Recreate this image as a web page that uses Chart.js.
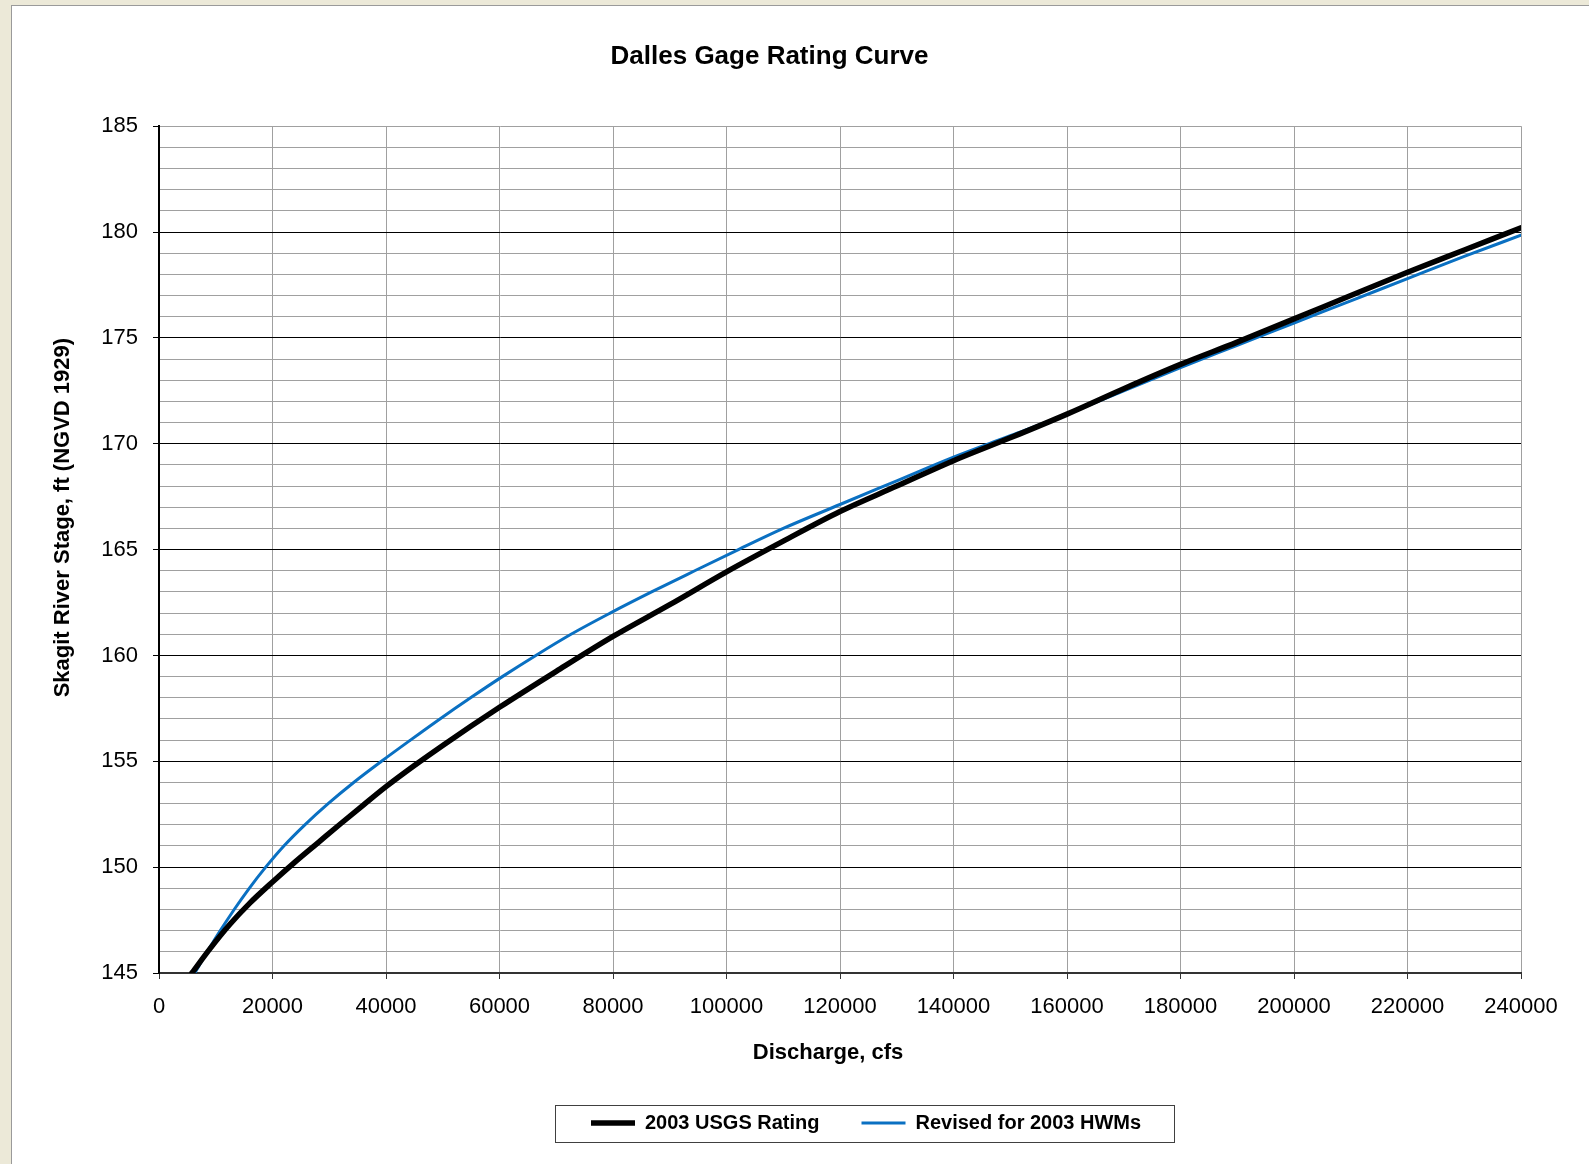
<!DOCTYPE html>
<html>
<head>
<meta charset="utf-8">
<title>Dalles Gage Rating Curve</title>
<script src="https://cdn.jsdelivr.net/npm/chart.js@4.4.1/dist/chart.umd.min.js"></script>
<style>
    html, body { margin: 0; padding: 0; background: #ECE9D8; overflow: hidden; }
    #panel {
        position: absolute; left: 11px; top: 5px;
        width: 1578px; height: 1159px;
        background: #fff;
        border-left: 1px solid #9a9a9a;
        border-top: 1px solid #9a9a9a;
    }
    #panel canvas { display: block; }
</style>
</head>
<body>
<div id="panel"><canvas id="ratingChart" width="1577" height="1158"></canvas></div>
<script>
// 2003 USGS rating (black), discharge in cfs vs stage in ft
const usgsDischarge = [5800, 9000, 12500, 16000, 20000, 24000, 28000, 32000, 36000, 40000,
    45000, 50000, 60000, 70000, 80000, 90000, 100000, 110000, 120000, 130000,
    140000, 150000, 160000, 170000, 180000, 190000, 200000, 210000, 220000, 230000, 240000];
const usgsStage = [145.0, 146.15, 147.3, 148.3, 149.3, 150.25, 151.15, 152.05, 152.93, 153.8,
    154.8, 155.75, 157.55, 159.25, 160.9, 162.4, 163.95, 165.4, 166.8, 168.0,
    169.2, 170.28, 171.4, 172.6, 173.75, 174.8, 175.9, 177.0, 178.1, 179.15, 180.2];

// Revised for 2003 HWMs (blue)
const hwmDischarge = [6300, 8500, 10800, 13250, 15900, 18800, 22000, 25700, 29800, 34300,
    39200, 44300, 49500, 54900, 60500, 66400, 72600, 79500, 86800, 94400,
    102100, 110000, 120000, 130000, 140000, 150000, 160000, 170000, 180000, 190000,
    200000, 210000, 220000, 230000, 240000];
const hwmStage = [145, 146, 147, 148, 149, 150, 151, 152, 153, 154,
    155, 156, 157, 158, 159, 160, 161, 162, 163, 164,
    165, 166.0, 167.13, 168.25, 169.37, 170.38, 171.4, 172.5, 173.6, 174.65,
    175.7, 176.75, 177.8, 178.85, 179.85];

const seriesNames = ['2003 USGS Rating', 'Revised for 2003 HWMs'];

const xTicks = { min: 0, max: 240000, step: 20000 };
const yTicks = { min: 145, max: 185, step: 1, major: 5 };

Chart.defaults.font.family = "'Liberation Sans', Arial, sans-serif";
Chart.defaults.color = '#000';

function toPoints(xs, ys) {
    return xs.map((x, i) => ({ x: x, y: ys[i] }));
}

// moves the legend to where it sits in the original and boxes it in
const legendFrame = {
    id: 'legendFrame',
    afterUpdate(chart) {
        const lg = chart.legend;
        if (!lg || !lg.legendHitBoxes.length) return;
        const first = lg.legendHitBoxes[0];
        const dx = 579 - first.left;
        const dy = 1107 - first.top;
        lg.left += dx; lg.right += dx;
        lg.top += dy; lg.bottom += dy;
        lg.legendHitBoxes.forEach(h => { h.left += dx; h.top += dy; });
    },
    afterDraw(chart) {
        const boxes = chart.legend.legendHitBoxes;
        if (!boxes.length) return;
        const c = chart.ctx;
        const l = Math.min(...boxes.map(b => b.left)) - 36;
        const r = Math.max(...boxes.map(b => b.left + b.width)) + 33;
        const t = boxes[0].top - 8;
        const b = boxes[0].top + boxes[0].height + 9;
        c.save();
        c.strokeStyle = '#404040';
        c.lineWidth = 1;
        c.strokeRect(Math.round(l) + 0.5, Math.round(t) + 0.5, Math.round(r - l), Math.round(b - t));
        c.restore();
    }
};

// titles are not centred on the plot in the original
const titleNudge = {
    id: 'titleNudge',
    afterLayout(chart) {
        [['x', -12, 0], ['y', 0, -32]].forEach(([id, dx, dy]) => {
            const scale = chart.scales[id];
            const base = Object.getPrototypeOf(scale).drawTitle;
            scale.drawTitle = function () {
                this.ctx.save();
                this.ctx.translate(dx, dy);
                base.call(this);
                this.ctx.restore();
            };
        });
        chart.titleBlock.left += 3;
        chart.titleBlock.right += 3;
    }
};

const ctx = document.getElementById('ratingChart');

new Chart(ctx, {
    type: 'line',
    data: {
        datasets: [{
            label: seriesNames[0],
            data: toPoints(usgsDischarge, usgsStage),
            borderColor: '#000000',
            backgroundColor: '#000000',
            borderWidth: 5.5,
            pointRadius: 0,
            cubicInterpolationMode: 'monotone',
            borderCapStyle: 'round',
            borderJoinStyle: 'round'
        }, {
            label: seriesNames[1],
            data: toPoints(hwmDischarge, hwmStage),
            borderColor: '#0A70C2',
            backgroundColor: '#0A70C2',
            borderWidth: 3,
            pointRadius: 0,
            cubicInterpolationMode: 'monotone',
            borderCapStyle: 'round'
        }]
    },
    options: {
        responsive: false,
        animation: false,
        events: [],
        layout: {
            padding: { left: 0, right: 68, top: 0, bottom: 15 }
        },
        plugins: {
            title: {
                display: true,
                text: 'Dalles Gage Rating Curve',
                color: '#000',
                font: { size: 26, weight: 'bold' },
                padding: { top: 35, bottom: 54 }
            },
            legend: {
                position: 'bottom',
                labels: {
                    usePointStyle: true,
                    pointStyle: 'line',
                    pointStyleWidth: 44,
                    padding: 42,
                    color: '#000',
                    font: { size: 20, weight: 'bold' }
                }
            },
            tooltip: { enabled: false }
        },
        scales: {
            x: {
                type: 'linear',
                min: xTicks.min,
                max: xTicks.max,
                ticks: {
                    stepSize: xTicks.step,
                    autoSkip: false,
                    maxRotation: 0,
                    padding: 15,
                    color: '#000',
                    font: { size: 22 },
                    callback: v => String(v)
                },
                grid: { color: '#A0A0A0', lineWidth: 1, tickLength: 6, tickColor: '#333' },
                border: { color: '#333', width: 2 },
                title: {
                    display: true,
                    text: 'Discharge, cfs',
                    color: '#000',
                    font: { size: 22, weight: 'bold' },
                    padding: { top: 0, bottom: 11 }
                },
                afterFit: s => { s.height = 104; }
            },
            y: {
                min: yTicks.min,
                max: yTicks.max,
                ticks: {
                    stepSize: yTicks.step,
                    autoSkip: false,
                    padding: 15,
                    color: '#000',
                    font: { size: 22 },
                    callback: v => (v % yTicks.major === 0 ? String(v) : '')
                },
                grid: {
                    lineWidth: 1,
                    tickLength: 6,
                    color: c => (c.tick && c.tick.value % yTicks.major === 0 && c.tick.value !== yTicks.max) ? '#000' : '#A0A0A0',
                    tickColor: c => (c.tick && c.tick.value % yTicks.major === 0) ? '#000' : 'rgba(0,0,0,0)'
                },
                border: { color: '#000', width: 2 },
                title: {
                    display: true,
                    text: 'Skagit River Stage, ft (NGVD 1929)',
                    color: '#000',
                    font: { size: 22, weight: 'bold' },
                    padding: { top: 38, bottom: 0 }
                },
                afterFit: s => { s.width = 147; }
            }
        }
    },
    plugins: [legendFrame, titleNudge]
});
</script>
</body>
</html>
